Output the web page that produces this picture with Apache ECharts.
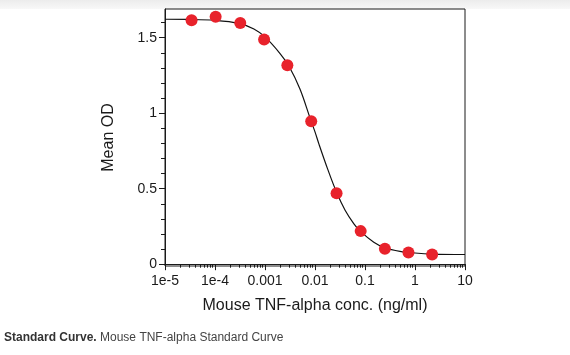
<!DOCTYPE html>
<html>
<head>
<meta charset="utf-8">
<script src="https://cdn.jsdelivr.net/npm/echarts@6/dist/echarts.min.js"></script>
<style>
html,body{margin:0;padding:0;background:#fff;}
#chart{width:570px;height:355px;}
</style>
</head>
<body>
<div id="chart"></div>
<script>
// Measured standards (ng/ml) and Mean OD
const concentrations = [3.4e-5, 1.03e-4, 3.2e-4, 9.6e-4, 2.8e-3, 8.4e-3, 0.027, 0.082, 0.25, 0.74, 2.2];
const meanOD = [1.616, 1.638, 1.598, 1.488, 1.318, 0.947, 0.470, 0.219, 0.102, 0.077, 0.064];

// Fitted curve
const curveConc = [1e-5, 3e-5, 1e-4, 3e-4, 6e-4, 1e-3, 2e-3, 3e-3, 5e-3, 8e-3, 1e-2, 1.2e-2, 1.8e-2, 2.7e-2, 4e-2, 6e-2, 8e-2, 0.15, 0.25, 0.5, 1, 2.2, 10];
const curveOD = [1.622, 1.621, 1.615, 1.595, 1.558, 1.505, 1.395, 1.312, 1.160, 0.966, 0.876, 0.795, 0.628, 0.476, 0.357, 0.267, 0.219, 0.146, 0.109, 0.085, 0.074, 0.067, 0.064];

// Axis ticks
const xMajorTicks = [1e-5, 1e-4, 0.001, 0.01, 0.1, 1, 10];
const xTickLabels = ['1e-5', '1e-4', '0.001', '0.01', '0.1', '1', '10'];
const xMinorTicks = [];
[1e-5, 1e-4, 1e-3, 1e-2, 1e-1, 1].forEach(function (d) {
  for (let k = 2; k <= 9; k++) xMinorTicks.push(+(d * k).toPrecision(3));
});
const yMajorTicks = [0, 0.5, 1, 1.5];
const yMinorTicks = [0.1, 0.2, 0.3, 0.4, 0.6, 0.7, 0.8, 0.9, 1.1, 1.2, 1.3, 1.4, 1.6];

const xTitle = 'Mouse TNF-alpha conc. (ng/ml)';
const yTitle = 'Mean OD';
const captionBold = 'Standard Curve.';
const captionText = ' Mouse TNF-alpha Standard Curve';

const FONT = '"Liberation Sans", Arial, Helvetica, sans-serif';
const AX = '#1a1a1a';

const chart = echarts.init(document.getElementById('chart'), null, {renderer: 'canvas'});

chart.setOption({
  animation: false,
  backgroundColor: '#ffffff',
  graphic: [
    {
      type: 'rect', left: 0, top: 0, z: -1,
      shape: {width: 570, height: 9},
      style: {fill: new echarts.graphic.LinearGradient(0, 0, 0, 1, [
        {offset: 0, color: '#ececec'}, {offset: 1, color: '#f8f8f8'}])}
    },
    {
      type: 'text', left: 4, top: 332,
      style: {
        text: '{b|' + captionBold + '}{n|' + captionText + '}',
        rich: {
          b: {fontFamily: FONT, fontSize: 12, fontWeight: 'bold', fill: '#333333'},
          n: {fontFamily: FONT, fontSize: 12, fill: '#444444'}
        }
      }
    }
  ],
  grid: {
    left: 165, right: 105, top: 9, bottom: 89,
    show: true, borderColor: AX, borderWidth: 1, backgroundColor: '#ffffff'
  },
  xAxis: [
    {
      type: 'log', logBase: 10, min: 1e-5, max: 10,
      position: 'bottom',
      name: xTitle, nameLocation: 'middle', nameGap: 32,
      nameTextStyle: {fontFamily: FONT, fontSize: 16, color: AX},
      axisLine: {show: true, lineStyle: {color: AX, width: 1}},
      axisTick: {show: true, length: 6, customValues: xMajorTicks, lineStyle: {color: AX}},
      axisLabel: {
        customValues: xMajorTicks, margin: 8,
        fontFamily: FONT, fontSize: 14, color: AX,
        formatter: function (v) {
          let best = xTickLabels[0], bd = Infinity;
          xMajorTicks.forEach(function (t, i) {
            const d = Math.abs(Math.log10(t) - Math.log10(v));
            if (d < bd) { bd = d; best = xTickLabels[i]; }
          });
          return best;
        }
      },
      splitLine: {show: false}, minorTick: {show: false}, minorSplitLine: {show: false}
    },
    {
      type: 'log', logBase: 10, min: 1e-5, max: 10,
      position: 'bottom',
      axisLine: {show: false},
      axisTick: {show: true, length: 3.5, customValues: xMinorTicks, lineStyle: {color: AX}},
      axisLabel: {show: false},
      splitLine: {show: false}
    }
  ],
  yAxis: [
    {
      type: 'value', min: -0.012, max: 1.69,
      position: 'left',
      name: yTitle, nameLocation: 'middle', nameGap: 48, nameRotate: 90,
      nameTextStyle: {fontFamily: FONT, fontSize: 16, color: AX},
      axisLine: {show: true, lineStyle: {color: AX, width: 1}},
      axisTick: {show: true, length: 6, customValues: yMajorTicks, lineStyle: {color: AX}},
      axisLabel: {
        customValues: yMajorTicks, margin: 8,
        fontFamily: FONT, fontSize: 14, color: AX,
        formatter: function (v) { return String(Math.round(v * 10) / 10); }
      },
      splitLine: {show: false}
    },
    {
      type: 'value', min: -0.012, max: 1.69,
      position: 'left',
      axisLine: {show: false},
      axisTick: {show: true, length: 4, customValues: yMinorTicks, lineStyle: {color: AX}},
      axisLabel: {show: false},
      splitLine: {show: false}
    }
  ],
  series: [
    {
      type: 'line', xAxisIndex: 0, yAxisIndex: 0,
      data: curveConc.map(function (c, i) { return [c, curveOD[i]]; }),
      smooth: 0.35, showSymbol: false, symbol: 'none',
      lineStyle: {color: '#111111', width: 1.2},
      z: 2
    },
    {
      type: 'scatter', xAxisIndex: 0, yAxisIndex: 0,
      data: concentrations.map(function (c, i) { return [c, meanOD[i]]; }),
      symbol: 'circle', symbolSize: 12,
      itemStyle: {color: '#e8222b', opacity: 1},
      z: 3
    }
  ]
});
</script>
</body>
</html>
